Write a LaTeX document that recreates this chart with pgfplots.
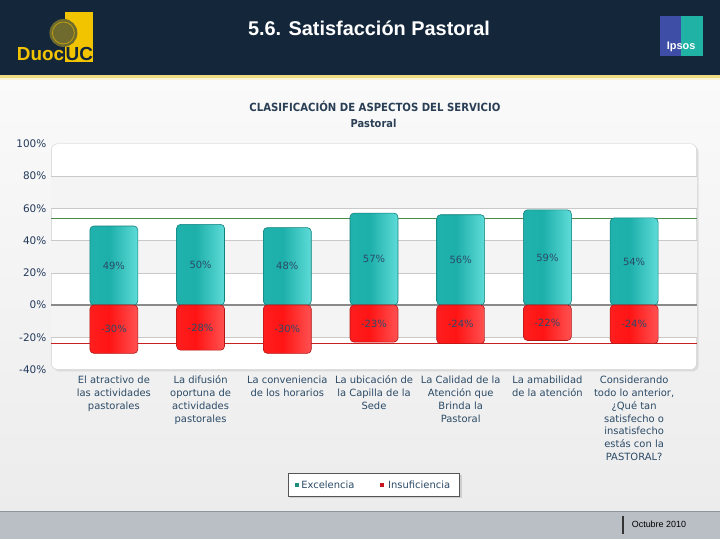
\documentclass[border=0pt]{standalone}
\usepackage{fontspec}
\setmainfont{DejaVu Sans}
\newfontfamily\lib{Liberation Sans}
\newfontfamily\dvc{DejaVu Sans Condensed}
\usepackage{pgfplots}
\pgfplotsset{compat=1.18}
\usetikzlibrary{shadows}
\definecolor{navy}{HTML}{13263A}
\definecolor{yel}{HTML}{EEDB84}
\definecolor{paleyel}{HTML}{FBF5D6}
\definecolor{bgtop}{HTML}{FAFAFA}
\definecolor{bgbot}{HTML}{ECECEC}
\definecolor{footc}{HTML}{B9BFC5}
\definecolor{footline}{HTML}{8E959C}
\definecolor{duocy}{HTML}{F2C400}
\definecolor{olive}{HTML}{6F6A2E}
\definecolor{ipblue}{HTML}{3E4DA6}
\definecolor{ipteal}{HTML}{1FB2A5}
\definecolor{titc}{HTML}{2A3F55}
\definecolor{tickc}{HTML}{23395B}
\definecolor{labc}{HTML}{2B4A66}
\definecolor{framec}{HTML}{CFCFCF}
\definecolor{bandc}{HTML}{F4F4F4}
\definecolor{gridc}{HTML}{C9C9C9}
\definecolor{zeroc}{HTML}{8A8A8A}
\definecolor{avgg}{HTML}{4A8A4A}
\definecolor{avgr}{HTML}{C82020}
\definecolor{tealD}{HTML}{0F807B}
\definecolor{redD}{HTML}{B31515}
\definecolor{legc}{HTML}{555555}
\definecolor{legt}{HTML}{1F8C7E}
\definecolor{legr}{HTML}{C8161E}
\definecolor{tA}{HTML}{16A09B}
\definecolor{tB}{HTML}{9AF4F1}
\definecolor{tC}{HTML}{22B3AE}
\definecolor{tD}{HTML}{1DAFAA}
\definecolor{tE}{HTML}{6EE6E3}
\definecolor{tF}{HTML}{8EF5F2}
\definecolor{rA}{HTML}{E01010}
\definecolor{rB}{HTML}{FFB0B0}
\definecolor{rC}{HTML}{FF2424}
\definecolor{rD}{HTML}{FF1414}
\definecolor{rE}{HTML}{FF6060}
\definecolor{rF}{HTML}{FF8C8C}
\pgfdeclarehorizontalshading{tealbar}{100bp}{color(0bp)=(tA); color(5bp)=(tB); color(13bp)=(tC); color(45bp)=(tD); color(82bp)=(tE); color(100bp)=(tF)}
\pgfdeclarehorizontalshading{redbar}{100bp}{color(0bp)=(rA); color(5bp)=(rB); color(13bp)=(rC); color(45bp)=(rD); color(82bp)=(rE); color(100bp)=(rF)}
\pgfplotsset{
  tealbar/.style={draw=tealD, line width=0.6bp, shade, shading=tealbar, shading angle=0, rounded corners=4bp, forget plot},
  redbar/.style={draw=redD, line width=0.6bp, shade, shading=redbar, shading angle=0, rounded corners=4bp, forget plot},
}
\begin{document}
\begin{tikzpicture}[x=1bp,y=1bp]
% background
\shade[top color=bgtop,bottom color=bgbot] (0,28) rectangle (720,465);
\fill[navy] (0,465) rectangle (720,540);
\fill[yel] (0,462) rectangle (720,465);
\fill[paleyel] (0,460) rectangle (720,462);
\fill[footc] (0,0) rectangle (720,28);
\draw[footline, line width=1bp] (0,28) -- (720,28);
% Duoc UC logo
\fill[duocy] (65,478) rectangle (93,528);
\fill[olive] (63,507) circle (14);
\draw[duocy!60!olive, line width=0.8bp] (63,507) circle (11);
\node[anchor=base east, text=duocy, font=\lib\bfseries\fontsize{19}{20}\selectfont, inner sep=0pt] at (64,479) {Duoc};
\node[anchor=base west, text=navy, font=\lib\bfseries\fontsize{19}{20}\selectfont, inner sep=0pt] at (65,479) {UC};
% Ipsos logo
\fill[ipblue] (660,484) rectangle (681.5,524);
\fill[ipteal] (681.5,484) rectangle (703,524);
\node[text=white, font=\lib\bfseries\fontsize{11}{12}\selectfont] at (681.5,493) {Ipsos};
% titles
\node[text=white, font=\lib\bfseries\fontsize{20}{24}\selectfont] at (369,512) {5.6. Satisfacción Pastoral};
\node[text=titc, font=\dvc\bfseries\fontsize{11.3}{13}\selectfont] at (375,433) {CLASIFICACIÓN DE ASPECTOS DEL SERVICIO};
\node[text=titc, font=\dvc\bfseries\fontsize{11}{13}\selectfont] at (373.5,416) {Pastoral};
\begin{axis}[
  at={(51bp,170bp)}, anchor=south west,
  width=646bp, height=226bp, scale only axis,
  xmin=-0.72, xmax=6.72, ymin=-40, ymax=100,
  axis line style={draw=none},
  axis background/.style={fill=white, draw=framec, rounded corners=6bp,
     drop shadow={shadow xshift=2bp, shadow yshift=-2bp, fill=black!22}},
  /pgf/number format/assume math mode=true,
  ytick={-40,-20,0,20,40,60,80,100},
  yticklabel={\pgfmathprintnumber{\tick}\%},
  yticklabel style={anchor=east, inner sep=0pt, xshift=-5bp, text=tickc, font=\fontsize{10.5}{12}\selectfont},
  xtick={0,1,2,3,4,5,6},
  xticklabels={
    {El atractivo de\\las actividades\\pastorales},
    {La difusión\\oportuna de\\actividades\\pastorales},
    {La conveniencia\\de los horarios},
    {La ubicación de\\la Capilla de la\\Sede},
    {La Calidad de la\\Atención que\\Brinda la\\Pastoral},
    {La amabilidad\\de la atención},
    {Considerando\\todo lo anterior,\\¿Qué tan\\satisfecho o\\insatisfecho\\estás con la\\PASTORAL?}},
  xticklabel style={align=center, anchor=north, inner sep=0pt, yshift=-6bp, text=labc, font=\fontsize{10}{13}\selectfont},
  major tick length=0pt,
  tick style={draw=none},
  ybar, bar width=0.553, bar shift=0pt,
  visualization depends on={y \as \rawy},
  nodes near coords={\pgfmathprintnumber{\pgfplotspointmeta}\%},
  nodes near coords style={anchor=center, text=labc, font=\fontsize{10}{12}\selectfont,
     shift={(axis direction cs:0,{-\rawy/2})}},
  clip=false,
]
% bands and grid
\fill[bandc] (axis cs:-0.72,60) rectangle (axis cs:6.72,80);
\fill[bandc] (axis cs:-0.72,20) rectangle (axis cs:6.72,40);
\fill[bandc] (axis cs:-0.72,-20) rectangle (axis cs:6.72,0);
\draw[gridc] (axis cs:-0.72,80) -- (axis cs:6.72,80);
\draw[gridc] (axis cs:-0.72,60) -- (axis cs:6.72,60);
\draw[gridc] (axis cs:-0.72,40) -- (axis cs:6.72,40);
\draw[gridc] (axis cs:-0.72,20) -- (axis cs:6.72,20);
\draw[gridc] (axis cs:-0.72,-20) -- (axis cs:6.72,-20);
\draw[zeroc, line width=1.5bp] (axis cs:-0.72,0) -- (axis cs:6.72,0);
\draw[avgg, line width=0.8bp] (axis cs:-0.72,53.5) -- (axis cs:6.72,53.5);
\draw[avgr, line width=0.8bp] (axis cs:-0.72,-23.7) -- (axis cs:6.72,-23.7);
% Excelencia
\addplot[tealbar] coordinates {(0,49)};
\addplot[tealbar] coordinates {(1,50)};
\addplot[tealbar] coordinates {(2,48)};
\addplot[tealbar] coordinates {(3,57)};
\addplot[tealbar] coordinates {(4,56)};
\addplot[tealbar] coordinates {(5,59)};
\addplot[tealbar] coordinates {(6,54)};
% Insuficiencia
\addplot[redbar] coordinates {(0,-30)};
\addplot[redbar] coordinates {(1,-28)};
\addplot[redbar] coordinates {(2,-30)};
\addplot[redbar] coordinates {(3,-23)};
\addplot[redbar] coordinates {(4,-24)};
\addplot[redbar] coordinates {(5,-22)};
\addplot[redbar] coordinates {(6,-24)};
\end{axis}
% legend
\fill[draw=legc, fill=white, line width=0.8bp, drop shadow={shadow xshift=2bp, shadow yshift=-2bp, fill=black!30}] (288,43) rectangle (460,66);
\fill[legt] (295,52.5) rectangle (298.5,56);
\node[anchor=west, inner sep=0pt, text=labc, font=\fontsize{10}{12}\selectfont] at (301,54.5) {Excelencia};
\fill[legr] (380.5,52.5) rectangle (384,56);
\node[anchor=west, inner sep=0pt, text=labc, font=\fontsize{10}{12}\selectfont] at (388,54.5) {Insuficiencia};
% footer
\fill[black!80] (622.5,5) rectangle (624.5,23);
\node[anchor=west, inner sep=0pt, font=\lib\fontsize{9}{10}\selectfont] at (632,15) {Octubre 2010};
\useasboundingbox (0,0) rectangle (720,540);
\end{tikzpicture}
\end{document}
